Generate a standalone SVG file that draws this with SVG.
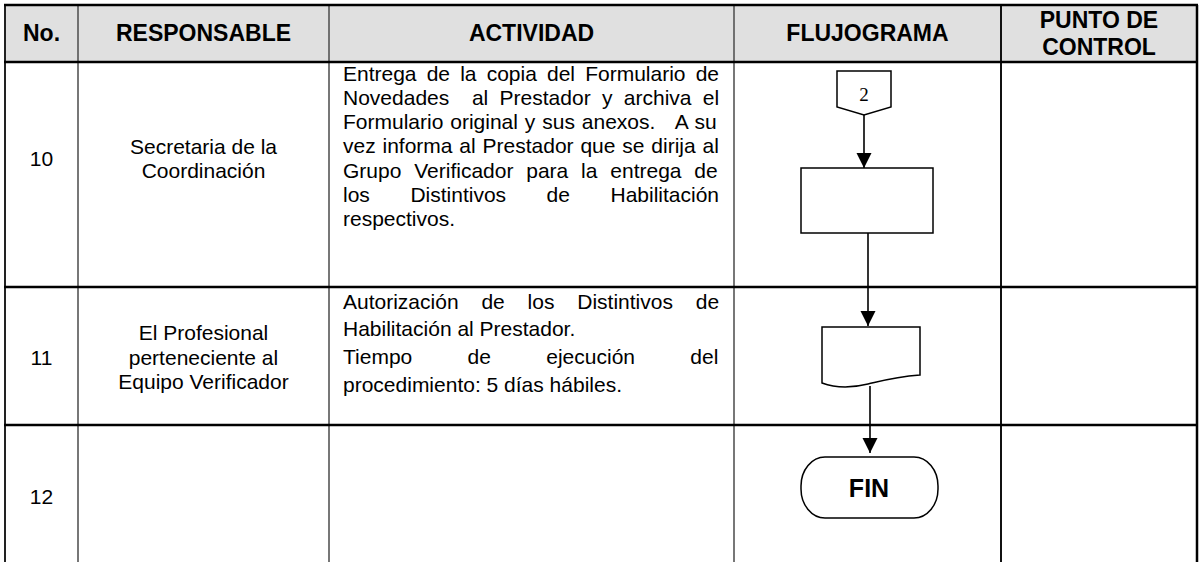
<svg xmlns="http://www.w3.org/2000/svg" width="1199" height="562" viewBox="0 0 1199 562">
<defs>
<style>
.hd{font-family:"Liberation Sans",Arial,sans-serif;font-weight:bold;font-size:23px;fill:#000;text-anchor:middle}
.tx{font-family:"Liberation Sans",Arial,sans-serif;font-size:21px;fill:#000}
.c{text-anchor:middle}
.grid{stroke:#000;stroke-width:2.5;fill:none}
.vl{stroke:#555;stroke-width:1.6;fill:none}
.shape{fill:#fff;stroke:#000;stroke-width:1.5}
.conn{stroke:#000;stroke-width:1.6;fill:none}
</style>
<marker id="arr" markerUnits="userSpaceOnUse" markerWidth="16" markerHeight="16" refX="15" refY="7.5" orient="auto">
<path d="M0,0 L15,7.5 L0,15 Z" fill="#000"/>
</marker>
</defs>
<rect x="0" y="0" width="1199" height="562" fill="#fff"/>
<g id="table">
<rect x="5" y="5" width="1192" height="57" fill="#e0e0e0"/>
<line class="vl" x1="78" y1="5" x2="78" y2="562"/>
<line class="vl" x1="329" y1="5" x2="329" y2="562"/>
<line class="vl" x1="734" y1="5" x2="734" y2="562"/>
<line x1="1001" y1="5" x2="1001" y2="562" stroke="#111" stroke-width="2"/>
<line x1="5" y1="5" x2="5" y2="562" stroke="#222" stroke-width="2"/>
<line x1="1197" y1="5" x2="1197" y2="562" stroke="#000" stroke-width="2.5"/>
<line class="grid" x1="4" y1="5" x2="1198" y2="5"/>
<line class="grid" x1="4" y1="62" x2="1198" y2="62"/>
<line class="grid" x1="4" y1="287" x2="1198" y2="287"/>
<line class="grid" x1="4" y1="425" x2="1198" y2="425"/>
</g>
<g id="header">
<text class="hd" x="41.5" y="41">No.</text>
<text class="hd" x="203.5" y="41">RESPONSABLE</text>
<text class="hd" x="531.5" y="41">ACTIVIDAD</text>
<text class="hd" x="867.5" y="41">FLUJOGRAMA</text>
<text class="hd" x="1099" y="28">PUNTO DE</text>
<text class="hd" x="1099" y="55">CONTROL</text>
</g>
<g id="row10">
<text class="tx c" x="41.5" y="166">10</text>
<text class="tx c" x="203.5" y="154">Secretaria de la</text>
<text class="tx c" x="203.5" y="178">Coordinación</text>
<text class="tx" x="343" y="81" word-spacing="4.3">Entrega de la copia del Formulario de</text>
<text class="tx" x="343" y="105" word-spacing="5.5" xml:space="preserve">Novedades  al Prestador y archiva el</text>
<text class="tx" x="343" y="129" word-spacing="1.05" xml:space="preserve">Formulario original y sus anexos.   A su</text>
<text class="tx" x="343" y="153" word-spacing="1.0">vez informa al Prestador que se dirija al</text>
<text class="tx" x="343" y="178" word-spacing="7.0">Grupo Verificador para la entrega de</text>
<text class="tx" x="343" y="202" word-spacing="34.7">los Distintivos de Habilitación</text>
<text class="tx" x="343" y="226">respectivos.</text>
</g>
<g id="row11">
<text class="tx c" x="41.5" y="365">11</text>
<text class="tx c" x="203.5" y="340">El Profesional</text>
<text class="tx c" x="203.5" y="365">perteneciente al</text>
<text class="tx c" x="203.5" y="389">Equipo Verificador</text>
<text class="tx" x="343" y="309" word-spacing="17.0">Autorización de los Distintivos de</text>
<text class="tx" x="343" y="336">Habilitación al Prestador.</text>
<text class="tx" x="343" y="364" word-spacing="49.5">Tiempo de ejecución del</text>
<text class="tx" x="343" y="392">procedimiento: 5 días hábiles.</text>
</g>
<g id="row12">
<text class="tx c" x="41.5" y="504">12</text>
</g>
<g id="n-connector">
<path class="shape" d="M837,71 H891 V107 L864,115 L837,107 Z"/>
<text x="864" y="101" text-anchor="middle" font-family="Liberation Serif,Times New Roman,serif" font-size="19">2</text>
</g>
<g id="n-process">
<rect class="shape" x="801" y="168" width="132" height="65"/>
</g>
<g id="n-document">
<path class="shape" d="M822,327 H920 V375 C895,377 885,380 868,384 C852,388 838,389 822,383 Z"/>
</g>
<g id="n-fin">
<rect class="shape" x="801" y="457" width="137" height="61" rx="24" ry="29"/>
<text x="869" y="497" text-anchor="middle" font-family="Liberation Sans,Arial,sans-serif" font-weight="bold" font-size="25">FIN</text>
</g>
<g id="connectors">
<line class="conn" x1="864" y1="115" x2="864" y2="168" marker-end="url(#arr)"/>
<line class="conn" x1="868" y1="233" x2="868" y2="326" marker-end="url(#arr)"/>
<line class="conn" x1="870" y1="386" x2="870" y2="453" marker-end="url(#arr)"/>
</g>
</svg>
